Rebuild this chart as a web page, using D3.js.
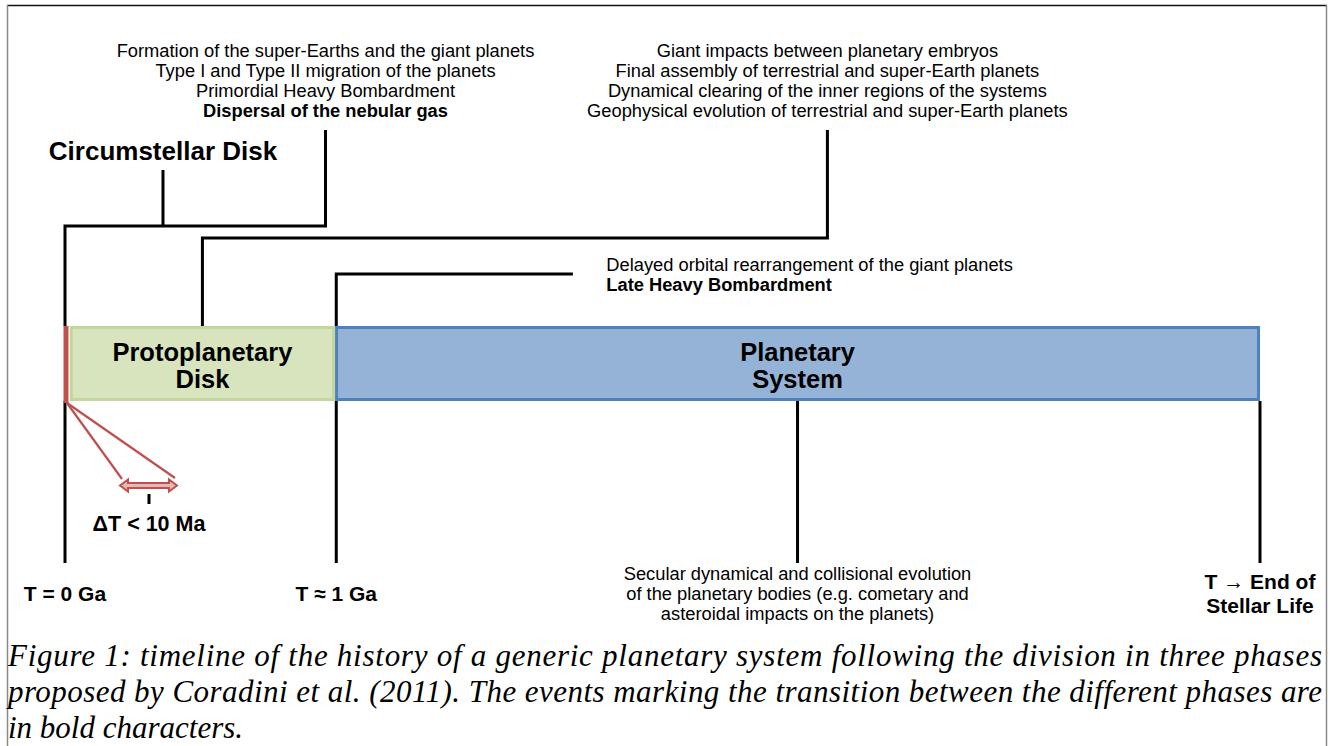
<!DOCTYPE html>
<html>
<head>
<meta charset="utf-8">
<script src="https://cdn.jsdelivr.net/npm/d3@7"></script>
<style>
  body { margin: 0; background: #fff; }
  svg { display: block; }
  .sans { font-family: "Liberation Sans", Arial, sans-serif; fill: #000; }
  .cap { font-family: "Liberation Serif"; font-style: italic; fill: #000; }
</style>
</head>
<body>
<svg width="1333" height="746"></svg>
<script>
// Phases along the timeline (position in % of the total life of the system)
var phases = [
  { name: ["Protoplanetary", "Disk"], start: 0.4, end: 22.6, fill: "#d7e4bd", stroke: "#c3d69b" },
  { name: ["Planetary", "System"], start: 22.6, end: 100, fill: "#95b3d7", stroke: "#4f81bd" }
];

// Time markers under the bar
var markers = [
  { pos: 0, label: ["T = 0 Ga"] },
  { pos: 22.7, label: ["T \u2248 1 Ga"] },
  { pos: 100, label: ["T \u2192 End of", "Stellar Life"] }
];

// Event annotations
var circumEvents = [
  "Formation of the super-Earths and the giant planets",
  "Type I and Type II migration of the planets",
  "Primordial Heavy Bombardment",
  "Dispersal of the nebular gas"
];
var circumBold = [false, false, false, true];

var protoEvents = [
  "Giant impacts between planetary embryos",
  "Final assembly of terrestrial and super-Earth planets",
  "Dynamical clearing of the inner regions of the systems",
  "Geophysical evolution of terrestrial and super-Earth planets"
];

var lhbEvents = ["Delayed orbital rearrangement of the giant planets", "Late Heavy Bombardment"];
var lhbBold = [false, true];

var secularEvents = [
  "Secular dynamical and collisional evolution",
  "of the planetary bodies (e.g. cometary and",
  "asteroidal impacts on the planets)"
];

// Bracket anchor positions (% of timeline)
var circumPos = 8.2, circumTextPos = 21.8;
var protoPos = 11.5, protoTextPos = 63.8;
var lhbPos = 22.7, lhbEndPos = 42.5, lhbTextPos = 45.3;
var secularPos = 61.3;

var captionLines = [
  "Figure 1: timeline of the history of a generic planetary system following the division in three phases",
  "proposed by Coradini et al. (2011). The events marking the transition between the different phases are",
  "in bold characters."
];

var svg = d3.select("svg");
var x = d3.scaleLinear().domain([0, 100]).range([65, 1260]);

var barTop = 326, barBot = 401, tickBot = 563;

// frame
svg.append("line").attr("x1", 7).attr("x2", 1327).attr("y1", 5.5).attr("y2", 5.5)
  .attr("stroke", "#111").attr("stroke-width", 1.3);
svg.append("line").attr("x1", 7.5).attr("x2", 7.5).attr("y1", 5).attr("y2", 746)
  .attr("stroke", "#888").attr("stroke-width", 1.5);
svg.append("line").attr("x1", 1326.5).attr("x2", 1326.5).attr("y1", 5).attr("y2", 746)
  .attr("stroke", "#888").attr("stroke-width", 1.5);

var g = svg.append("g");

function path(pts) {
  g.append("path").attr("d", d3.line()(pts))
    .attr("fill", "none").attr("stroke", "#000").attr("stroke-width", 3);
}

// Circumstellar disk bracket
path([[x(0), barTop], [x(0), 226], [x(circumTextPos), 226], [x(circumTextPos), 130]]);
path([[x(circumPos), 226], [x(circumPos), 170]]);
// Protoplanetary bracket
path([[x(protoPos), barTop], [x(protoPos), 238], [x(protoTextPos), 238], [x(protoTextPos), 130]]);
// LHB bracket
path([[x(lhbPos), barTop], [x(lhbPos), 274], [x(lhbEndPos), 274]]);

// markers below the bar
markers.forEach(function(m) {
  path([[x(m.pos), barBot], [x(m.pos), tickBot]]);
});
path([[x(secularPos), barBot], [x(secularPos), tickBot]]);

// phase bars
g.selectAll("rect.phase").data(phases).enter().append("rect")
  .attr("class", "phase")
  .attr("x", function(d) { return x(d.start) + 1.5; })
  .attr("y", barTop + 1.5)
  .attr("width", function(d) { return x(d.end) - x(d.start) - 3; })
  .attr("height", barBot - barTop - 3)
  .attr("fill", function(d) { return d.fill; })
  .attr("stroke", function(d) { return d.stroke; })
  .attr("stroke-width", 3);

// red circumstellar segment
g.append("rect").attr("x", x(0) - 1.5).attr("y", barTop).attr("width", 5).attr("height", barBot - barTop + 2)
  .attr("fill", "#c0504d");

// phase names
phases.forEach(function(p) {
  var t = g.append("text").attr("class", "sans")
    .attr("text-anchor", "middle")
    .style("font-size", "25.5px").style("font-weight", "bold");
  p.name.forEach(function(s, i) {
    t.append("tspan").attr("x", (x(p.start) + x(p.end)) / 2).attr("y", 361 + i * 27).text(s);
  });
});

// zoom lines for the short circumstellar phase
var red = "#c0504d";
g.append("line").attr("x1", x(0) + 2).attr("y1", barBot + 2).attr("x2", 122).attr("y2", 479)
  .attr("stroke", red).attr("stroke-width", 2.2);
g.append("line").attr("x1", x(0) + 2).attr("y1", barBot + 2).attr("x2", 175).attr("y2", 478)
  .attr("stroke", red).attr("stroke-width", 2.2);
var ax0 = 120, ax1 = 177, ay = 485.5;
g.append("path")
  .attr("d", d3.line()([[ax0, ay], [ax0 + 8, ay - 6], [ax0 + 8, ay - 2.5], [ax1 - 8, ay - 2.5], [ax1 - 8, ay - 6],
    [ax1, ay], [ax1 - 8, ay + 6], [ax1 - 8, ay + 2.5], [ax0 + 8, ay + 2.5], [ax0 + 8, ay + 6]]) + "Z")
  .attr("fill", "#e6b9b8").attr("stroke", red).attr("stroke-width", 2);
g.append("line").attr("x1", 149).attr("x2", 149).attr("y1", 494).attr("y2", 504)
  .attr("stroke", "#000").attr("stroke-width", 3);
g.append("text").attr("class", "sans").attr("x", 149).attr("y", 531)
  .attr("text-anchor", "middle").style("font-size", "21.5px").style("font-weight", "bold")
  .text("\u0394T < 10 Ma");

// marker labels
markers.forEach(function(m) {
  var t = g.append("text").attr("class", "sans").attr("text-anchor", "middle")
    .style("font-size", "21px").style("font-weight", "bold");
  var y0 = m.label.length > 1 ? 589 : 601;
  m.label.forEach(function(s, i) {
    t.append("tspan").attr("x", x(m.pos)).attr("y", y0 + i * 24).text(s);
  });
});

// event texts
function block(lines, bold, cx, y0, anchor, step) {
  var t = g.append("text").attr("class", "sans").attr("text-anchor", anchor).style("font-size", "18.3px");
  lines.forEach(function(s, i) {
    t.append("tspan").attr("x", cx).attr("y", y0 + i * step)
      .style("font-weight", bold && bold[i] ? "bold" : "normal").text(s);
  });
}
block(circumEvents, circumBold, x(circumTextPos), 57, "middle", 20);
block(protoEvents, null, x(protoTextPos), 57, "middle", 20);
block(lhbEvents, lhbBold, x(lhbTextPos), 271, "start", 20);
block(secularEvents, null, x(secularPos), 580, "middle", 20);

g.append("text").attr("class", "sans").attr("x", x(circumPos)).attr("y", 160)
  .attr("text-anchor", "middle").style("font-size", "26px").style("font-weight", "bold")
  .text("Circumstellar Disk");

// caption
var cap = svg.append("text").attr("class", "cap").style("font-size", "31px");
captionLines.forEach(function(s, i) {
  var ts = cap.append("tspan").attr("x", 8).attr("y", 666 + i * 36).text(s);
  if (i < captionLines.length - 1) ts.attr("textLength", 1314).attr("lengthAdjust", "spacing");
});
</script>
</body>
</html>
